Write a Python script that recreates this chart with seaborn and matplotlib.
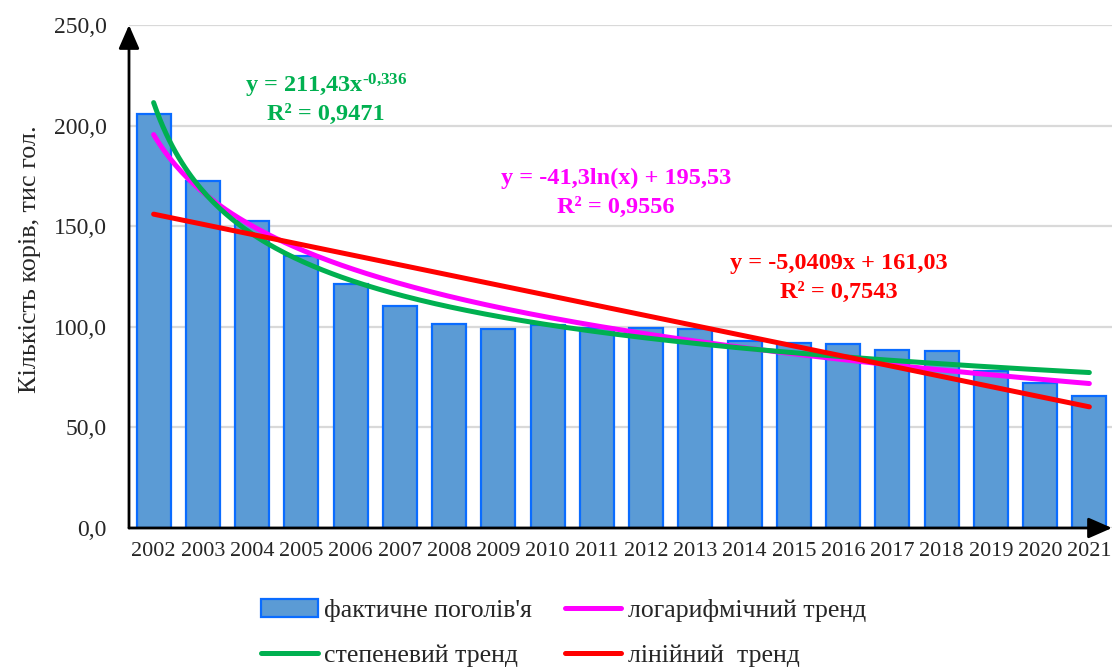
import numpy as np
import pandas as pd
import matplotlib
matplotlib.use("Agg")
import matplotlib.pyplot as plt
from matplotlib.patches import Patch
from matplotlib.lines import Line2D
import seaborn as sns

# Herd size of cows by year, thousand heads
years = ["2002", "2003", "2004", "2005", "2006", "2007", "2008", "2009", "2010", "2011",
         "2012", "2013", "2014", "2015", "2016", "2017", "2018", "2019", "2020", "2021"]
cows = [205.6, 172.4, 152.6, 135.1, 121.3, 110.4, 101.4, 98.8, 100.9, 99.5,
        99.6, 98.8, 92.8, 92.1, 91.5, 88.5, 88.0, 78.0, 72.2, 65.6]

# Trend equation coefficients (x = 1 for the first year)
power_a, power_b = 211.43, -0.336
log_a, log_b = -41.3, 195.53
lin_a, lin_b = -5.0409, 161.03

y_ticks = [0, 50, 100, 150, 200, 250]

sns.set_theme(style="white")
plt.rcParams["font.family"] = ["Liberation Serif", "DejaVu Serif"]
plt.rcParams["mathtext.fontset"] = "custom"
plt.rcParams["mathtext.rm"] = "Liberation Serif"
plt.rcParams["mathtext.bf"] = "Liberation Serif:bold"
plt.rcParams["mathtext.it"] = "Liberation Serif:italic"

BAR_FILL = "#5B9BD5"
BAR_EDGE = "#0A6CFF"
GREEN = "#00B050"
MAGENTA = "#FF00FF"
RED = "#FF0000"

fig = plt.figure(figsize=(11.14, 6.69), dpi=100)
ax = fig.add_axes([129 / 1114, 1 - 528 / 669, (1112 - 129) / 1114, (528 - 25) / 669])

df = pd.DataFrame({"year": years, "cows": cows})
sns.barplot(data=df, x="year", y="cows", color=BAR_FILL, saturation=1,
            edgecolor=BAR_EDGE, linewidth=1.6, width=0.69, ax=ax, zorder=2)

# Smooth trend curves over the year index
t = np.linspace(1, len(years), 300)
pos = t - 1
power_trend = power_a * t ** power_b
log_trend = log_a * np.log(t) + log_b
lin_trend = lin_a * t + lin_b

lw = 3.6
ax.plot(pos, log_trend, color=MAGENTA, lw=lw, solid_capstyle="round", zorder=3)
ax.plot(pos, power_trend, color=GREEN, lw=lw, solid_capstyle="round", zorder=4)
ax.plot(pos, lin_trend, color=RED, lw=lw, solid_capstyle="round", zorder=5)

ax.set_xlim(-0.5, 19.46)
ax.set_ylim(0, 250)
ax.set_yticks(y_ticks)
ax.set_yticklabels([f"{v:.1f}".replace(".", ",") for v in y_ticks], fontsize=17)
ax.tick_params(axis="x", labelsize=16, pad=10, length=0)
ax.tick_params(axis="y", pad=16, length=0)
ax.yaxis.grid(True, color="#D9D9D9", lw=1.6, zorder=0)
ax.set_axisbelow(True)
for s in ax.spines.values():
    s.set_visible(False)
ax.set_xlabel("")
ax.set_ylabel("Кількість корів, тис гол.", fontsize=18.8)
ax.yaxis.set_label_coords(-0.09, 0.535)

# Axis lines with arrowheads
arrow_kw = dict(arrowstyle="-|>,head_length=0.8,head_width=0.35", color="black", lw=2,
                mutation_scale=18, shrinkA=0, shrinkB=0)
ax.annotate("", xy=(0, 1.0), xytext=(0, 0), xycoords="axes fraction",
            arrowprops=arrow_kw, annotation_clip=False, zorder=6)
ax.annotate("", xy=(1.0, 0), xytext=(0, 0), xycoords="axes fraction",
            arrowprops=arrow_kw, annotation_clip=False, zorder=6)

# Trend equations
eq_kw = dict(ha="center", va="center", fontsize=17.5, fontweight="bold")
ax.text(3.5, 219.5, "y = 211,43x$^{\\mathbf{\u20100{,}336}}$", color=GREEN, **eq_kw)
ax.text(3.5, 205.5, "R² = 0,9471", color=GREEN, **eq_kw)
ax.text(9.39, 174.0, "y = -41,3ln(x) + 195,53", color=MAGENTA, **eq_kw)
ax.text(9.39, 159.5, "R² = 0,9556", color=MAGENTA, **eq_kw)
ax.text(13.92, 131.7, "y = -5,0409x + 161,03", color=RED, **eq_kw)
ax.text(13.92, 117.3, "R² = 0,7543", color=RED, **eq_kw)

handles = [
    Patch(facecolor=BAR_FILL, edgecolor=BAR_EDGE, linewidth=1.6),
    Line2D([0], [0], color=GREEN, lw=lw),
    Line2D([0], [0], color=MAGENTA, lw=lw),
    Line2D([0], [0], color=RED, lw=lw),
]
labels = ["фактичне поголів'я", "степеневий тренд", "логарифмічний тренд", "лінійний  тренд"]
fig.legend(handles, labels, ncol=2, loc="upper center", bbox_to_anchor=(0.506, 0.131),
           frameon=False, fontsize=18.5, handlelength=2.2, handletextpad=0.25,
           columnspacing=1.28, labelspacing=0.85, borderpad=0.2)

fig.savefig("out.png", dpi=100)
